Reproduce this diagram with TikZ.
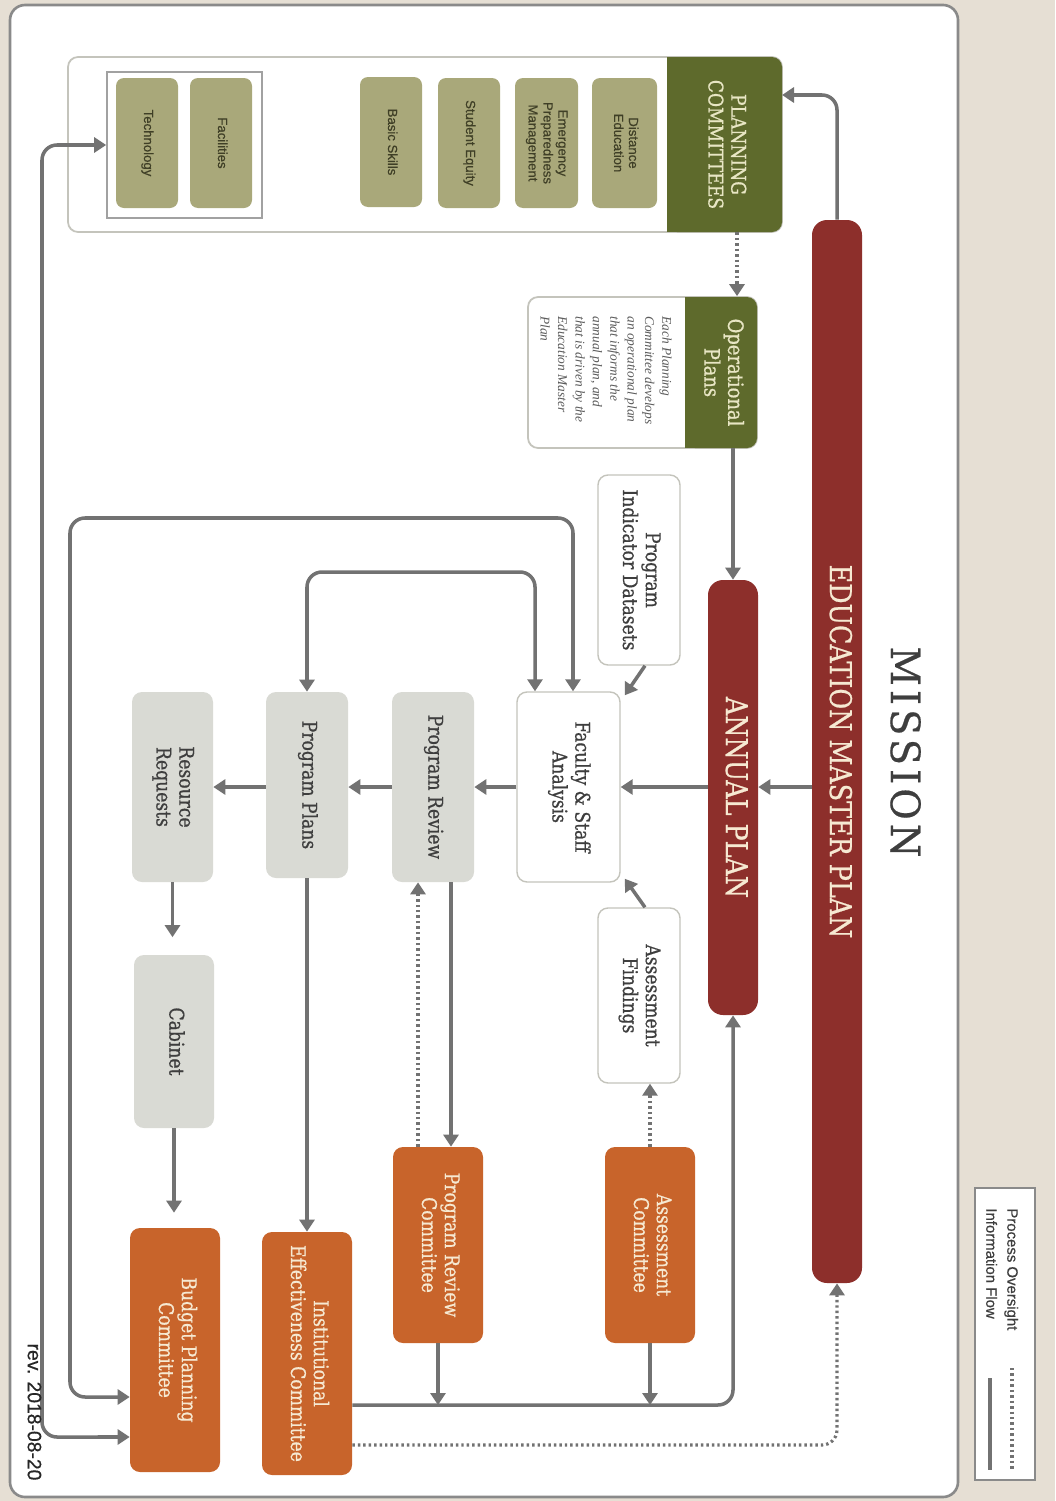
\documentclass[tikz,border=0pt]{standalone}
\usepackage{fontspec}
\usepackage{graphicx}
\usetikzlibrary{arrows.meta}
\setmainfont{DejaVu Serif}
\newfontfamily\slab[FakeStretch=0.85,FakeBold=0.8]{DejaVu Serif}
\newfontfamily\msn[FakeStretch=0.95,LetterSpace=10,FakeBold=0.5]{DejaVu Serif}
\newfontfamily\sns[FakeBold=0.5]{Liberation Sans}
\newfontfamily\itl{Liberation Serif}
\newcommand\rt[1]{\rotatebox{-90}{\begin{tabular}{@{}c@{}}#1\end{tabular}}}
\newcommand\rtl[1]{\rotatebox{-90}{\begin{tabular}{@{}l@{}}#1\end{tabular}}}
\definecolor{bgbeige}{HTML}{E6DFD4}
\definecolor{dred}{HTML}{8D2F2B}
\definecolor{dgreen}{HTML}{5E6A2C}
\definecolor{khaki}{HTML}{A9A87A}
\definecolor{orng}{HTML}{C8642B}
\definecolor{lgray}{HTML}{D9DAD4}
\definecolor{lnc}{HTML}{727272}
\definecolor{txtg}{HTML}{3E3E3E}
\definecolor{cream}{HTML}{F6E9D2}
\definecolor{gcream}{HTML}{E8E6C4}
\definecolor{kht}{HTML}{3F3F26}
\definecolor{bord}{HTML}{C4C4BC}
\definecolor{frm}{HTML}{8A8A8A}
\tikzset{
  bx/.style 2 args={minimum width={#1*0.02cm}, minimum height={#2*0.02cm}, inner sep=0pt},
  redbar/.style={fill=dred, rounded corners=0.3cm, text=cream, font=\slab\fontsize{17}{20}\selectfont},
  khbox/.style={fill=khaki, rounded corners=0.16cm, text=kht, font=\sns\fontsize{7.5}{8.5}\selectfont},
  lab/.style={font=\slab\fontsize{11.5}{13}\selectfont},
  wbox/.style={lab, fill=white, draw=bord, line width=0.8pt, rounded corners=0.2cm, text=txtg},
  gbox/.style={lab, fill=lgray, rounded corners=0.2cm, text=txtg},
  obox/.style={lab, fill=orng, rounded corners=0.2cm, text=cream},
  flow/.style={draw=lnc, line width=2pt, ->},
  ovs/.style={draw=lnc, line width=1.8pt, dash pattern=on 1.4pt off 1.7pt, ->},
}
\begin{document}
\begin{tikzpicture}[x=0.02cm, y=-0.02cm, >={Triangle[width=0.3cm,length=0.24cm]}]
\useasboundingbox (0,0) rectangle (1055,1501);
\fill[bgbeige] (0,0) rectangle (1055,1501);
\draw[fill=white, draw=frm, line width=1.5pt, rounded corners=0.3cm] (10,5) rectangle (958,1497);

% title
\node[text=txtg, font=\msn\fontsize{23}{26}\selectfont] (mis) at (900,752) {\rt{MISSION}};

% red bars
\node[redbar, bx={50}{1063}] (emp) at (837,751.5) {\rt{EDUCATION MASTER PLAN}};
\node[redbar, bx={50}{435}] (ap) at (733,797.5) {\rt{ANNUAL PLAN}};

% planning committees
\node[fill=white, draw=bord, line width=1pt, rounded corners=0.2cm, bx={714}{175}] (pcb) at (425,144.5) {};
\fill[dgreen, rounded corners=0.2cm] (667,57) rectangle (782,232);
\fill[dgreen] (667,57) rectangle (700,232);
\node[bx={115}{175}, text=gcream, font=\slab\fontsize{11.5}{13}\selectfont] (pc) at (724.5,144.5) {\rt{PLANNING\\COMMITTEES}};
\node[khbox, bx={65}{130}] (de) at (624.5,143) {\rt{Distance\\Education}};
\node[khbox, bx={63}{130}] (ep) at (546.5,143) {\rt{Emergency\\Preparedness\\Management}};
\node[khbox, bx={62}{130}] (se) at (469,143) {\rt{Student Equity}};
\node[khbox, bx={62}{130}] (bs) at (391,142) {\rt{Basic Skills}};
\node[draw=frm!80, line width=0.9pt, bx={155}{146}] (tf) at (184.5,145) {};
\node[khbox, bx={62}{130}] (fa) at (221,143) {\rt{Facilities}};
\node[khbox, bx={62}{130}] (te) at (147,143) {\rt{Technology}};

% operational plans
\node[fill=white, draw=bord, line width=1pt, rounded corners=0.2cm, bx={229}{151}] (opbox) at (642.5,372.5) {};
\fill[dgreen, rounded corners=0.2cm] (685,297) rectangle (757,448);
\fill[dgreen] (685,297) rectangle (715,448);
\node[bx={72}{151}, text=gcream, font=\slab\fontsize{12}{13.5}\selectfont] (oph) at (721,372.5) {\rt{Operational\\Plans}};
\node[anchor=north east, inner sep=0pt, text=txtg!85, font=\itl\itshape\fontsize{7.6}{9.9}\selectfont] (opd) at (675,316)
  {\rtl{Each Planning\\Committee develops\\an operational plan\\that informs the\\annual plan, and\\that is driven by the\\Education Master\\Plan}};

% central boxes
\node[wbox, bx={82}{190}] (pid) at (639,570) {\rt{Program\\Indicator Datasets}};
\node[wbox, bx={103}{190}] (fsa) at (568.5,787) {\rt{Faculty \& Staff\\Analysis}};
\node[wbox, bx={82}{175}] (af) at (639,995.5) {\rt{Assessment\\Findings}};
\node[gbox, bx={82}{190}] (pr) at (433,787) {\rt{Program Review}};
\node[gbox, bx={82}{186}] (pp) at (307,785) {\rt{Program Plans}};
\node[gbox, bx={81}{190}] (rr) at (172.5,787) {\rt{Resource\\Requests}};
\node[gbox, bx={80}{173}] (cab) at (174,1041.5) {\rt{Cabinet}};
\node[obox, bx={90}{244}] (bpc) at (175,1350) {\rt{Budget Planning\\Committee}};
\node[obox, bx={90}{243}] (iec) at (307,1353.5) {\rt{Institutional\\Effectiveness Committee}};
\node[obox, bx={90}{196}] (prc) at (438,1245) {\rt{Program Review\\Committee}};
\node[obox, bx={90}{196}] (ac) at (650,1245) {\rt{Assessment\\Committee}};

% connectors
\coordinate (pcin) at (782,95);
\draw[flow, rounded corners=0.3cm] (emp.north) |- (pcin);
\draw[ovs] ([xshift=0.25cm]pc.south) -- ([xshift=0.25cm]pc.south |- opbox.north);
\draw[flow] (oph.south -| ap.north) -- (ap.north);
\draw[flow] (emp.west |- fsa.east) -- (ap.east |- fsa.east);
\draw[flow] (ap.west |- fsa.east) -- (fsa.east);
\draw[flow] (fsa.west) -- (pr.east);
\draw[flow] (pr.west) -- (pp.east |- pr.west);
\draw[flow] (pp.west |- pr.west) -- (rr.east);
\draw[flow, shorten >=0.35cm] (rr.south) -- (rr.south |- cab.north);
\draw[flow, shorten >=0.3cm] (cab.south) -- (cab.south |- bpc.north);
\draw[flow] (pp.south) -- (iec.north);
\draw[flow] ([xshift=0.36cm]pr.south) -- ([xshift=0.36cm]pr.south |- prc.north);
\draw[ovs] ([xshift=-0.3cm]pr.south |- prc.north) -- ([xshift=-0.3cm]pr.south);
\draw[ovs] (ac.north) -- (ac.north |- af.south);
\draw[flow] ([xshift=0.12cm]pid.south) -- ([xshift=0.08cm,yshift=-0.08cm]fsa.north east);
\draw[flow] ([xshift=0.12cm]af.north) -- ([xshift=0.08cm,yshift=0.08cm]fsa.south east);

\coordinate (ly1) at (0,572);
\draw[flow, <->, rounded corners=0.3cm] ([xshift=-0.67cm]fsa.north) -- ([xshift=-0.67cm]fsa.north |- ly1) -| (pp.north);
\coordinate (ly2) at (70,518);
\draw[flow, <->, rounded corners=0.3cm] ([xshift=0.09cm]fsa.north) |- (ly2) |- ([yshift=-0.94cm]bpc.west);
\coordinate (lx) at (42,1437);
\draw[flow, <->, rounded corners=0.3cm] (tf.west) -| (lx) -- ([yshift=-1.74cm]bpc.west);

\coordinate (bl) at ([yshift=-1.03cm]iec.east);
\draw[flow, rounded corners=0.3cm] (bl) -| (ap.south);
\draw[flow] (prc.south) -- (prc.south |- bl);
\draw[flow] (ac.south) -- (ac.south |- bl);
\draw[ovs, rounded corners=0.3cm] ([yshift=-1.83cm]iec.east) -| (emp.south);

% legend
\node[fill=white, draw=frm, line width=1pt, bx={60}{292}] (leg) at (1005,1334) {};
\node[anchor=north, inner sep=0pt, text=txtg, font=\sns\fontsize{8.5}{12}\selectfont] (legt) at (1001,1208) {\rtl{Process Oversight\\Information Flow}};
\draw[lnc, line width=1.8pt, dash pattern=on 1.4pt off 1.7pt] (1012,1368) -- (1012,1470);
\draw[lnc, line width=2.2pt] (990,1378) -- (990,1470);

% revision
\node[text=black!85, font=\sns\fontsize{11}{12}\selectfont] (rev) at (32,1412) {\rt{rev. 2018-08-20}};
\end{tikzpicture}
\end{document}
